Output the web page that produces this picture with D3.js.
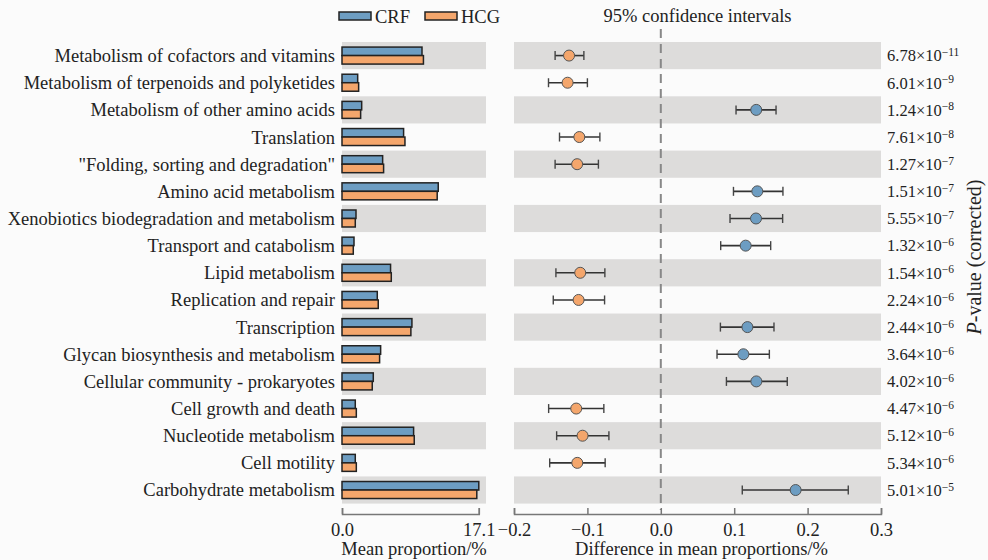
<!DOCTYPE html>
<html>
<head>
<meta charset="utf-8">
<script src="https://cdn.jsdelivr.net/npm/d3@7"></script>
<style>
  body { margin: 0; background: #fbfbfb; }
  svg { font-family: "Liberation Serif", "Times New Roman", serif; }
</style>
</head>
<body>
<div class="canvas"></div>
<script>
const categories = [
  "Metabolism of cofactors and vitamins",
  "Metabolism of terpenoids and polyketides",
  "Metabolism of other amino acids",
  "Translation",
  "\"Folding, sorting and degradation\"",
  "Amino acid metabolism",
  "Xenobiotics biodegradation and metabolism",
  "Transport and catabolism",
  "Lipid metabolism",
  "Replication and repair",
  "Transcription",
  "Glycan biosynthesis and metabolism",
  "Cellular community - prokaryotes",
  "Cell growth and death",
  "Nucleotide metabolism",
  "Cell motility",
  "Carbohydrate metabolism"
];
const crf = [10.0, 1.96, 2.46, 7.7, 5.08, 12.03, 1.75, 1.5, 6.07, 4.41, 8.74, 4.83, 3.91, 1.66, 8.95, 1.66, 17.1];
const hcg = [10.18, 2.08, 2.33, 7.87, 5.2, 11.9, 1.66, 1.41, 6.16, 4.53, 8.61, 4.7, 3.78, 1.79, 9.03, 1.79, 16.85];
const diff = [-0.125, -0.127, 0.130, -0.111, -0.114, 0.1315, 0.1297, 0.1156, -0.1098, -0.112, 0.118, 0.1125, 0.1302, -0.1152, -0.1066, -0.1138, 0.1837];
const ciLow = [-0.144, -0.153, 0.1025, -0.138, -0.144, 0.099, 0.0943, 0.0816, -0.1429, -0.1465, 0.0812, 0.0766, 0.0894, -0.1528, -0.1419, -0.1514, 0.111];
const ciHigh = [-0.1048, -0.100, 0.157, -0.083, -0.085, 0.1664, 0.166, 0.1497, -0.0762, -0.0766, 0.1542, 0.1479, 0.1723, -0.0776, -0.0707, -0.0758, 0.2554];
const pMant = ["6.78", "6.01", "1.24", "7.61", "1.27", "1.51", "5.55", "1.32", "1.54", "2.24", "2.44", "3.64", "4.02", "4.47", "5.12", "5.34", "5.01"];
const pExp = [-11, -9, -8, -8, -7, -7, -7, -6, -6, -6, -6, -6, -6, -6, -6, -6, -5];
const leftTicks = [0, 17.1];
const rightTicks = [-0.2, -0.1, 0, 0.1, 0.2, 0.3];

const width = 988, height = 560;
const blue = "#6d9dc2", orange = "#f4a66c", band = "#dddcdb";
const fs = 18.5;

const svg = d3.select(".canvas").append("svg")
  .attr("width", width).attr("height", height);

const rows = d3.range(categories.length);
const y = d3.scaleBand().domain(rows).range([42, 503.6]).padding(0);

// left panel scale (band spans 0..18)
const x1 = d3.scaleLinear().domain([0, 18]).range([342, 486]);
// right panel scale
const x2 = d3.scaleLinear().domain([-0.2, 0.3]).range([514, 881]);

const fmt = (d) => (d < 0 ? "\u2212" : "") + Math.abs(d).toFixed(1);

// background stripes
rows.filter((i) => i % 2 === 0).forEach((i) => {
  svg.append("rect").attr("x", x1(0)).attr("y", y(i))
    .attr("width", x1(18) - x1(0)).attr("height", y.bandwidth()).attr("fill", band);
  svg.append("rect").attr("x", x2(-0.2)).attr("y", y(i))
    .attr("width", x2(0.3) - x2(-0.2)).attr("height", y.bandwidth()).attr("fill", band);
});

// category labels
svg.append("g").selectAll("text").data(categories).join("text")
  .attr("x", 335).attr("y", (d, i) => y(i) + y.bandwidth() / 2)
  .attr("dy", "0.35em").attr("text-anchor", "end")
  .attr("font-size", fs).attr("fill", "#222").text((d) => d);

// bars
const barH = 8.5;
const mid = (i) => y(i) + y.bandwidth() / 2;
svg.append("g").selectAll("rect").data(crf).join("rect")
  .attr("x", x1(0)).attr("y", (d, i) => mid(i) - barH)
  .attr("width", (d) => x1(d) - x1(0)).attr("height", barH)
  .attr("fill", blue).attr("stroke", "#222").attr("stroke-width", 1.5);
svg.append("g").selectAll("rect").data(hcg).join("rect")
  .attr("x", x1(0)).attr("y", (d, i) => mid(i))
  .attr("width", (d) => x1(d) - x1(0)).attr("height", barH)
  .attr("fill", orange).attr("stroke", "#222").attr("stroke-width", 1.5);

// dashed zero line
svg.append("line")
  .attr("x1", x2(0)).attr("x2", x2(0)).attr("y1", 29).attr("y2", 510)
  .attr("stroke", "#888").attr("stroke-width", 2)
  .style("stroke-dasharray", "9,6");

// error bars
const eb = svg.append("g");
rows.forEach((i) => {
  const cy = mid(i);
  eb.append("line").attr("x1", x2(ciLow[i])).attr("x2", x2(ciHigh[i]))
    .attr("y1", cy).attr("y2", cy).attr("stroke", "#333").attr("stroke-width", 1.6);
  [ciLow[i], ciHigh[i]].forEach((v) => {
    eb.append("line").attr("x1", x2(v)).attr("x2", x2(v))
      .attr("y1", cy - 4.5).attr("y2", cy + 4.5).attr("stroke", "#444").attr("stroke-width", 1.4);
  });
});
svg.append("g").selectAll("circle").data(diff).join("circle")
  .attr("cx", (d) => x2(d)).attr("cy", (d, i) => mid(i)).attr("r", 5.5)
  .attr("fill", (d) => (d > 0 ? blue : orange))
  .attr("stroke", "#555").attr("stroke-width", 1);

// p-values
const pg = svg.append("g").attr("font-size", 16.5).attr("fill", "#222");
rows.forEach((i) => {
  const t = pg.append("text").attr("x", 887).attr("y", mid(i)).attr("dy", "0.35em");
  t.append("tspan").text(pMant[i] + "\u00d710");
  t.append("tspan").attr("dy", "-0.45em").attr("font-size", 11.5)
    .text("\u2212" + Math.abs(pExp[i]));
});

// axes
const axisY = 514;
const x1Axis = d3.scaleLinear().domain([0, 17.1]).range([x1(0), x1(17.1)]);
const gA1 = svg.append("g").attr("transform", `translate(0,${axisY})`)
  .call(d3.axisBottom(x1Axis).tickValues(leftTicks).tickFormat(fmt).tickSize(-6).tickPadding(9));
const gA2 = svg.append("g").attr("transform", `translate(0,${axisY})`)
  .call(d3.axisBottom(x2).tickValues(rightTicks).tickFormat(fmt).tickSize(-6).tickPadding(9));
[gA1, gA2].forEach((g) => {
  g.select(".domain").attr("stroke", "#777").attr("stroke-width", 1.5);
  g.selectAll(".tick line").attr("stroke", "#777").attr("stroke-width", 1.5);
  g.selectAll(".tick text").attr("font-size", fs).attr("fill", "#222")
    .attr("font-family", "Liberation Serif, serif");
});

// axis titles
svg.append("text").attr("x", (x1(0) + x1(18)) / 2).attr("y", 555)
  .attr("text-anchor", "middle").attr("font-size", fs).attr("fill", "#222")
  .text("Mean proportion/%");
svg.append("text").attr("x", (x2(-0.2) + x2(0.3)) / 2 + 4).attr("y", 555)
  .attr("text-anchor", "middle").attr("font-size", fs).attr("fill", "#222")
  .text("Difference in mean proportions/%");

// panel title
svg.append("text").attr("x", (x2(-0.2) + x2(0.3)) / 2).attr("y", 22)
  .attr("text-anchor", "middle").attr("font-size", fs).attr("fill", "#222")
  .text("95% confidence intervals");

// right title
const rt = svg.append("text").attr("transform", "translate(981,257) rotate(-90)")
  .attr("text-anchor", "middle").attr("font-size", 20).attr("fill", "#222");
rt.append("tspan").attr("font-style", "italic").text("P");
rt.append("tspan").text("-value (corrected)");

// legend
const legend = [["CRF", blue, 339], ["HCG", orange, 425]];
legend.forEach(([name, color, lx]) => {
  svg.append("rect").attr("x", lx).attr("y", 12).attr("width", 32).attr("height", 8)
    .attr("fill", color).attr("stroke", "#222").attr("stroke-width", 1.5);
  svg.append("text").attr("x", lx + 36).attr("y", 22.5).attr("font-size", fs)
    .attr("fill", "#222").text(name);
});
</script>
</body>
</html>
